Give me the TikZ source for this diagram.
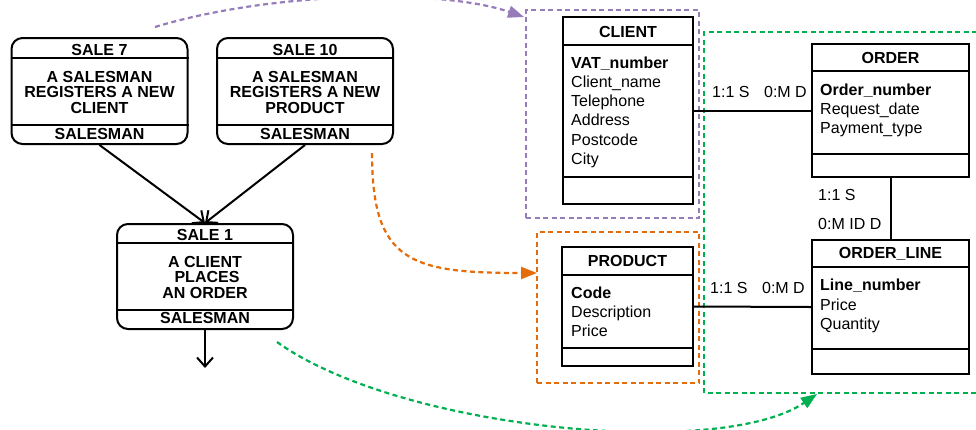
\documentclass[tikz,border=0pt]{standalone}
\usepackage{fontspec}
\setmainfont{Liberation Sans}
\usetikzlibrary{arrows.meta}
\definecolor{cpurple}{RGB}{150,125,185}
\definecolor{corange}{RGB}{228,108,10}
\definecolor{cgreen}{RGB}{0,176,80}
\begin{document}
\begin{tikzpicture}[x=1pt,y=-1pt,
  proc/.style={draw,line width=2pt,rounded corners=11pt,minimum width=176pt,minimum height=106pt,inner sep=0},
  ent/.style={draw,line width=2pt,inner sep=0},
  sep/.style={line width=2pt},
  ttl/.style={font=\fontsize{16}{16}\selectfont\bfseries,inner sep=0,anchor=base},
  attr/.style={font=\fontsize{16}{16}\selectfont,inner sep=0,anchor=base west},
  lbl/.style={font=\fontsize{16}{16}\selectfont,inner sep=0},
  flow/.style={line width=2pt,-{Straight Barb[length=9pt,width=16pt,line width=2pt]}},
  dsh/.style={line width=2.2pt,dash pattern=on 5pt off 3.5pt},
  tip/.style={-{Triangle[length=16pt,width=12pt]}}
  ]
\useasboundingbox (0,0) rectangle (976,429);

% ---------- process boxes ----------
\node[proc] (s7) at (99.5,91) {};
\draw[sep] ([yshift=-21pt]s7.north west) -- ([yshift=-21pt]s7.north east);
\draw[sep] ([yshift=20pt]s7.south west) -- ([yshift=20pt]s7.south east);
\node[ttl] (s7t) at (99.5,55) {SALE 7};
\node[ttl] (s7a) at (99.5,82) {A SALESMAN};
\node[ttl] (s7b) at (99.5,97) {REGISTERS A NEW};
\node[ttl] (s7c) at (99.5,113) {CLIENT};
\node[ttl] (s7r) at (99.5,139) {SALESMAN};

\node[proc] (s10) at (305,91) {};
\draw[sep] ([yshift=-21pt]s10.north west) -- ([yshift=-21pt]s10.north east);
\draw[sep] ([yshift=20pt]s10.south west) -- ([yshift=20pt]s10.south east);
\node[ttl] (s10t) at (305,55) {SALE 10};
\node[ttl] (s10a) at (305,82) {A SALESMAN};
\node[ttl] (s10b) at (305,97) {REGISTERS A NEW};
\node[ttl] (s10c) at (305,113) {PRODUCT};
\node[ttl] (s10r) at (305,139) {SALESMAN};

\node[proc,minimum height=105pt] (s1) at (205,276.5) {};
\draw[sep] ([yshift=-20pt]s1.north west) -- ([yshift=-20pt]s1.north east);
\draw[sep] ([yshift=20pt]s1.south west) -- ([yshift=20pt]s1.south east);
\node[ttl] (s1t) at (205,240) {SALE 1};
\node[ttl] (s1a) at (205,267) {A CLIENT};
\node[ttl] (s1b) at (207,282) {PLACES};
\node[ttl] (s1c) at (205,298) {AN ORDER};
\node[ttl] (s1r) at (205,323) {SALESMAN};

\coordinate (out1) at (205,368);
\draw[flow] (s7.south) -- (s1.north);
\draw[flow] (s10.south) -- (s1.north);
\draw[flow] (s1.south) -- (out1);

% ---------- groups ----------
\node[draw=cpurple,dsh,minimum width=173pt,minimum height=208pt,inner sep=0] (pgrp) at (612.5,114) {};
\node[draw=corange,dsh,minimum width=162pt,minimum height=151pt,inner sep=0] (ogrp) at (618,307.5) {};
\coordinate (gtr) at (977,32);
\coordinate (gtl) at (704,32);
\coordinate (gbl) at (704,393);
\coordinate (gbr) at (977,393);
\draw[cgreen,dsh] (gtr) -- (gtl) -- (gbl) -- (gbr);

% ---------- entities ----------
\node[ent,minimum width=130pt,minimum height=187pt] (client) at (628,110.5) {};
\draw[sep] ([yshift=-29pt]client.north west) -- ([yshift=-29pt]client.north east);
\draw[sep] ([yshift=28pt]client.south west) -- ([yshift=28pt]client.south east);
\node[ttl] (clt) at (628,37) {CLIENT};
\node[attr] (cl1) at (571,68) {\textbf{VAT\_number}};
\node[attr] (cl2) at (571,87) {Client\_name};
\node[attr] (cl3) at (571,106) {Telephone};
\node[attr] (cl4) at (571,125) {Address};
\node[attr] (cl5) at (571,145) {Postcode};
\node[attr] (cl6) at (571,164) {City};

\node[ent,minimum width=157pt,minimum height=133pt] (order) at (890.5,110.5) {};
\draw[sep] ([yshift=-28pt]order.north west) -- ([yshift=-28pt]order.north east);
\draw[sep] ([yshift=24pt]order.south west) -- ([yshift=24pt]order.south east);
\node[ttl] (ort) at (890.5,63) {ORDER};
\node[attr] (or1) at (820,95) {\textbf{Order\_number}};
\node[attr] (or2) at (820,114) {Request\_date};
\node[attr] (or3) at (820,133) {Payment\_type};

\node[ent,minimum width=157pt,minimum height=134pt] (oline) at (890.5,307) {};
\draw[sep] ([yshift=-28pt]oline.north west) -- ([yshift=-28pt]oline.north east);
\draw[sep] ([yshift=26pt]oline.south west) -- ([yshift=26pt]oline.south east);
\node[ttl] (olt) at (890.5,258) {ORDER\_LINE};
\node[attr] (ol1) at (820,290) {\textbf{Line\_number}};
\node[attr] (ol2) at (820,310) {Price};
\node[attr] (ol3) at (820,329) {Quantity};

\node[ent,minimum width=131pt,minimum height=119pt] (product) at (627.5,306.5) {};
\draw[sep] ([yshift=-29pt]product.north west) -- ([yshift=-29pt]product.north east);
\draw[sep] ([yshift=19pt]product.south west) -- ([yshift=19pt]product.south east);
\node[ttl] (prt) at (627.5,266) {PRODUCT};
\node[attr] (pr1) at (571,298) {\textbf{Code}};
\node[attr] (pr2) at (571,317) {Description};
\node[attr] (pr3) at (571,336) {Price};

% ---------- relationships ----------
\draw[sep] (client.east) -- (order.west);
\draw[sep] (product.east) -- (oline.west);
\draw[sep] (order.south) -- (oline.north);
\node[lbl,anchor=base west] (r1a) at (712,97) {1:1 S};
\node[lbl,anchor=base east] (r1b) at (807,97) {0:M D};
\node[lbl,anchor=base west] (r2a) at (710,293) {1:1 S};
\node[lbl,anchor=base east] (r2b) at (805,293) {0:M D};
\node[lbl,anchor=base west] (r3a) at (818,200) {1:1 S};
\node[lbl,anchor=base west] (r3b) at (818,229) {0:M ID D};

% ---------- dashed links ----------
\coordinate (pst) at (155,27);
\coordinate (pen) at (524,17);
\draw[cpurple,dsh,tip] (pst) .. controls (270,-8) and (440,-12) .. (pen);
\coordinate (ost) at (372,153);
\coordinate (oen) at (537,273);
\draw[corange,dsh,tip] (ost) .. controls (372,262) and (410,273) .. (oen);
\coordinate (gst) at (277,342);
\coordinate (gen) at (817,394);
\draw[cgreen,dsh,tip] (gst) .. controls (400,430) and (720,460) .. (gen);
\end{tikzpicture}
\end{document}
